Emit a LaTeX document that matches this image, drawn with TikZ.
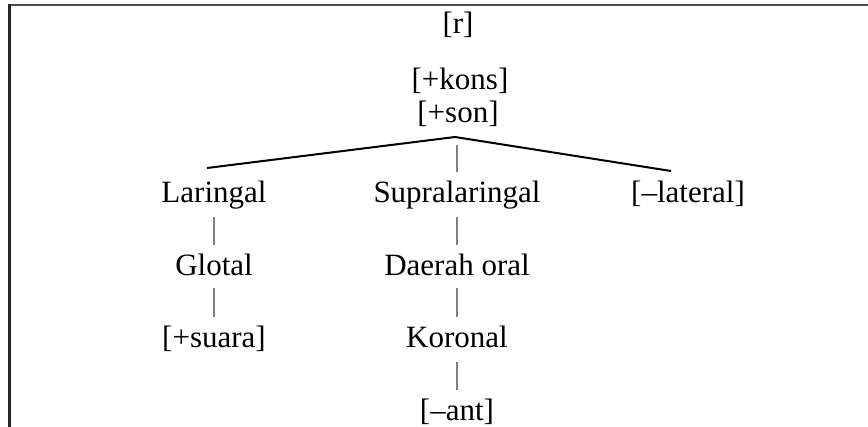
\documentclass[tikz,border=0pt]{standalone}
\usepackage{fontspec}
\setmainfont{Liberation Serif}
\usetikzlibrary{calc}
\begin{document}
\begin{tikzpicture}[x=1pt,y=-1pt,
  lbl/.style={anchor=base, inner sep=0pt, font=\fontsize{31}{36}\selectfont},
  bar/.style={draw=black!50, line width=1.4pt},
  branch/.style={draw=black, line width=2pt, line join=miter},
  frame/.style={draw=black!70, line width=2.6pt}]
\useasboundingbox (0,0) rectangle (868,427);

% open frame: top and left edges
\draw[frame] (8,5) -- (870,5);
\draw[frame, draw=black!85, line width=2.2pt] (9.5,4) -- (9.5,429);

% feature tree for [r]
\node[lbl] (r) at (458,34) {[r]};
\node[lbl] (kons) at (460,90) {[+kons]};
\node[lbl] (son) at (458,123) {[+son]};
\coordinate (apex) at (455,137);
\coordinate (lend) at (207,168);
\coordinate (rend) at (671,171);

\node[lbl] (lar) at (214,203) {Laringal};
\node[lbl] (supra) at (457,203) {Supralaringal};
\node[lbl] (lat) at (688,203) {[–lateral]};
\node[lbl] (glot) at (214,276) {Glotal};
\node[lbl] (daerah) at (457,276) {Daerah oral};
\node[lbl] (suara) at (214,348) {[+suara]};
\node[lbl] (kor) at (457,348) {Koronal};
\node[lbl] (ant) at (457,421) {[–ant]};

% branching lines
\draw[branch] (lend) -- (apex) -- (rend);

% association bars
\draw[bar] ($(apex)+(2,8)$) -- ($(supra.base)+(0,-31)$);
\draw[bar] ($(lar.base)+(0,14)$) -- ($(glot.base)+(0,-31)$);
\draw[bar] ($(glot.base)+(0,12)$) -- ($(suara.base)+(0,-31)$);
\draw[bar] ($(supra.base)+(0,14)$) -- ($(daerah.base)+(0,-31)$);
\draw[bar] ($(daerah.base)+(0,12)$) -- ($(kor.base)+(0,-31)$);
\draw[bar] ($(kor.base)+(0,14)$) -- ($(ant.base)+(0,-31)$);
\end{tikzpicture}
\end{document}
